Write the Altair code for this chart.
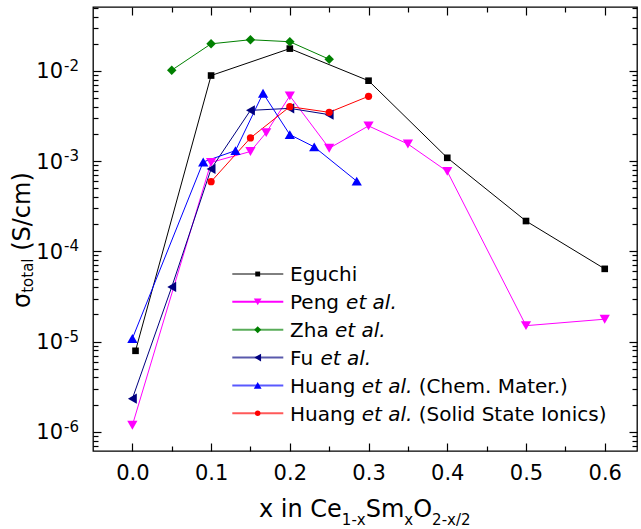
import altair as alt
import pandas as pd

FONT = "DejaVu Sans"

# ---------------- data ----------------
series_names = ["Eguchi", "Peng", "Zha", "Fu", "Huang CM", "Huang SSI"]
series_colors = ["#000000", "#FF00FF", "#008000", "#000080", "#0000FF", "#FF0000"]
series_shapes = ["square", "triangle-down", "diamond", "triangle-left", "triangle-up", "circle"]
series_msize = [44, 105, 90, 105, 105, 52]
legend_msize = [24, 60, 50, 60, 60, 30]

eguchi_x = [0.004, 0.1, 0.2, 0.3, 0.4, 0.5, 0.6]
eguchi_y = [7.9e-6, 8.9e-3, 1.77e-2, 7.8e-3, 1.09e-3, 2.17e-4, 6.4e-5]
peng_x = [0.0, 0.1, 0.15, 0.17, 0.2, 0.25, 0.3, 0.35, 0.4, 0.5, 0.6]
peng_y = [1.18e-6, 9.7e-4, 1.28e-3, 2.07e-3, 5.3e-3, 1.39e-3, 2.46e-3, 1.55e-3, 7.7e-4, 1.5e-5, 1.77e-5]
zha_x = [0.05, 0.1, 0.15, 0.2, 0.25]
zha_y = [1.02e-2, 2.0e-2, 2.22e-2, 2.11e-2, 1.35e-2]
fu_x = [0.0, 0.05, 0.1, 0.15, 0.2, 0.25]
fu_y = [2.33e-6, 4.03e-5, 8.2e-4, 3.66e-3, 3.85e-3, 3.28e-3]
huangcm_x = [0.0, 0.09, 0.131, 0.166, 0.2, 0.231, 0.285]
huangcm_y = [1.08e-5, 9.8e-4, 1.31e-3, 5.66e-3, 1.97e-3, 1.44e-3, 6.0e-4]
huangssi_x = [0.1, 0.15, 0.2, 0.25, 0.3]
huangssi_y = [5.93e-4, 1.81e-3, 4.02e-3, 3.48e-3, 5.24e-3]

x_major = [0.0, 0.1, 0.2, 0.3, 0.4, 0.5, 0.6]
x_minor = [0.05, 0.15, 0.25, 0.35, 0.45, 0.55]
y_decades = [1e-2, 1e-3, 1e-4, 1e-5, 1e-6]
y_exponents = ["-2", "-3", "-4", "-5", "-6"]

legend_names = ["Eguchi", "Peng", "Zha", "Fu", "Huang", "Huang"]
legend_italic = ["", "et al.", "et al.", "et al.", "et al.", "et al."]
legend_suffix = ["", "", "", "", "(Chem. Mater.)", "(Solid State Ionics)"]

x_title_parts = ["x in Ce", "1-x", "Sm", "x", "O", "2-x/2"]
x_title_sub = [False, True, False, True, False, True]
y_title_parts = ["\u03c3", "total", "(S/cm)"]
y_title_sub = [False, True, False]

# ---------------- helpers ----------------
W = {' ': 318, '(': 390, ')': 390, '.': 318, '/': 337, '-': 361,
     'C': 698, 'E': 632, 'F': 575, 'H': 752, 'I': 295, 'M': 863, 'O': 787,
     'P': 603, 'S': 635, 'Z': 685, 'a': 613, 'c': 550, 'd': 635, 'e': 615,
     'g': 635, 'h': 634, 'i': 278, 'l': 278, 'm': 974, 'n': 634, 'o': 612,
     'r': 411, 's': 521, 't': 392, 'u': 634, 'x': 592, '\u03c3': 635}


def tw(s, fs):
    return sum(W.get(c, 636) for c in s) * fs / 1000.0


rows = []
for name, xs, ys in zip(series_names,
                        [eguchi_x, peng_x, zha_x, fu_x, huangcm_x, huangssi_x],
                        [eguchi_y, peng_y, zha_y, fu_y, huangcm_y, huangssi_y]):
    for i, (xv, yv) in enumerate(zip(xs, ys)):
        rows.append({"series": name, "x": xv, "y": yv, "i": i})
df = pd.DataFrame(rows)

XDOM = [-0.05, 0.641]
YDOM = [6.12e-7, 0.0512]
xscale = alt.Scale(domain=XDOM, nice=False, zero=False)
yscale = alt.Scale(type="log", domain=YDOM, nice=False)
cscale = alt.Scale(domain=series_names, range=series_colors)

y_minor = []
for k in range(-7, -1):
    for m in range(2, 10):
        v = m * 10.0 ** k
        if YDOM[0] < v < YDOM[1]:
            y_minor.append(v)

MAJ, MIN = 8, 5


def ax(orient, values, size, labels=False):
    kw = dict(orient=orient, values=values, tickSize=alt.ExprRef(expr=str(-size)),
              tickColor="black", tickWidth=1.2, domain=False, grid=False,
              labels=labels, title=None)
    if labels:
        kw.update(format=".1f", labelFont=FONT, labelFontSize=21, labelColor="black",
                  labelPadding=19, labelFlush=False, labelOverlap=False)
    return alt.Axis(**kw)


def carrier(xax, yax):
    return alt.Chart(df).mark_point(opacity=0).encode(
        x=alt.X("x:Q", scale=xscale, axis=xax),
        y=alt.Y("y:Q", scale=yscale, axis=yax),
    )


c1 = carrier(ax("bottom", x_major, MAJ, True), ax("left", y_decades, MAJ))
c2 = carrier(ax("top", x_major, MAJ), ax("right", y_decades, MAJ))
c3 = carrier(ax("bottom", x_minor, MIN), ax("left", y_minor, MIN))
c4 = carrier(ax("top", x_minor, MIN), ax("right", y_minor, MIN))

X = alt.X("x:Q", scale=xscale, axis=None)
Y = alt.Y("y:Q", scale=yscale, axis=None)
COL = alt.Color("series:N", scale=cscale, legend=None)

lines = alt.Chart(df).mark_line(strokeWidth=1).encode(
    x=X, y=Y, color=COL, detail="series:N", order="i:Q")

point_layers = []
for name, col, shp, sz in zip(series_names, series_colors, series_shapes, series_msize):
    point_layers.append(
        alt.Chart(df).transform_filter(alt.datum.series == name).mark_point(
            filled=True, opacity=1, strokeWidth=0, shape=shp, size=sz, color=col
        ).encode(x=X, y=Y)
    )

# y tick labels 10^n
ylab_df = pd.DataFrame({"y": y_decades, "base": ["10"] * len(y_decades), "exp": y_exponents})
ylab_base = alt.Chart(ylab_df).mark_text(
    align="right", baseline="alphabetic", dy=7.5, fontSize=21, font=FONT, color="black"
).encode(x=alt.value(-30), y=alt.Y("y:Q", scale=yscale, axis=None), text="base:N")
ylab_exp = alt.Chart(ylab_df).mark_text(
    align="left", baseline="alphabetic", dy=0, fontSize=15, font=FONT, color="black"
).encode(x=alt.value(-29), y=alt.Y("y:Q", scale=yscale, axis=None), text="exp:N")

# x title
FT, FS = 24, 15
xt_rows = []
cx = 166.0
for part, sub in zip(x_title_parts, x_title_sub):
    fs = FS if sub else FT
    xt_rows.append({"t": part, "px": cx, "py": 518.0 if sub else 509.7, "fs": fs})
    cx += tw(part, fs)
xt_df = pd.DataFrame(xt_rows)
xtitle = alt.Chart(xt_df).mark_text(align="left", baseline="alphabetic", font=FONT, color="black").encode(
    x=alt.X("px:Q", scale=None, axis=None), y=alt.Y("py:Q", scale=None, axis=None),
    text="t:N", size=alt.Size("fs:Q", scale=None, legend=None))

# y title (rotated)
yt_rows = []
cy = 301.0
for j, (part, sub) in enumerate(zip(y_title_parts, y_title_sub)):
    fs = FS if sub else FT
    if j == 2:
        cy -= tw(" ", FT)
    yt_rows.append({"t": part, "px": -59.7 if sub else -63.0, "py": cy, "fs": fs})
    cy -= tw(part, fs)
yt_df = pd.DataFrame(yt_rows)
ytitle = alt.Chart(yt_df).mark_text(align="left", baseline="alphabetic", font=FONT, color="black",
                                    angle=270).encode(
    x=alt.X("px:Q", scale=None, axis=None), y=alt.Y("py:Q", scale=None, axis=None),
    text="t:N", size=alt.Size("fs:Q", scale=None, legend=None))

# legend
LF = 20
leg_rows = []
for r, (nm, it, sf) in enumerate(zip(legend_names, legend_italic, legend_suffix)):
    ry = 267.0 + r * 27.85
    x0 = 197.0
    x1 = x0 + tw(nm + " ", LF)
    x2 = x1 + tw(it + " ", LF)
    leg_rows.append({"series": series_names[r], "ry": ry, "ty": ry + 7.3,
                     "name": nm, "ital": it, "suf": sf, "x0": x0, "x1": x1, "x2": x2})
leg_df = pd.DataFrame(leg_rows)
LY = alt.Y("ry:Q", scale=None, axis=None)
TY = alt.Y("ty:Q", scale=None, axis=None)
leg_lines = alt.Chart(leg_df).mark_rule().encode(
    x=alt.value(139.3), x2=alt.value(190.3), y=LY, color=COL,
    strokeWidth=alt.condition("datum.series == 'Eguchi'", alt.value(1), alt.value(2)),
    opacity=alt.condition("datum.series == 'Eguchi' || datum.series == 'Peng'", alt.value(1), alt.value(0.65)))
leg_pt_layers = []
for name, col, shp, sz in zip(series_names, series_colors, series_shapes, legend_msize):
    leg_pt_layers.append(
        alt.Chart(leg_df).transform_filter(alt.datum.series == name).mark_point(
            filled=True, opacity=1, strokeWidth=0, shape=shp, size=sz, color=col
        ).encode(x=alt.value(164.7), y=LY)
    )
leg_name = alt.Chart(leg_df).mark_text(align="left", baseline="alphabetic", font=FONT, fontSize=LF,
                                       color="black").encode(
    x=alt.X("x0:Q", scale=None, axis=None), y=TY, text="name:N")
leg_ital = alt.Chart(leg_df).mark_text(align="left", baseline="alphabetic", font=FONT, fontSize=LF,
                                       fontStyle="italic", color="black").encode(
    x=alt.X("x1:Q", scale=None, axis=None), y=TY, text="ital:N")
leg_suf = alt.Chart(leg_df).mark_text(align="left", baseline="alphabetic", font=FONT, fontSize=LF,
                                      color="black").encode(
    x=alt.X("x2:Q", scale=None, axis=None), y=TY, text="suf:N")

chart = alt.layer(
    c1, c2, c3, c4, lines, *point_layers, ylab_base, ylab_exp, xtitle, ytitle,
    leg_lines, *leg_pt_layers, leg_name, leg_ital, leg_suf
).resolve_axis(x="independent", y="independent").properties(
    width=544, height=444,
    padding={"left": 93, "top": 7, "right": 4, "bottom": 78},
    autosize=alt.AutoSizeParams(type="none"),
    background="white",
).configure_view(stroke="black", strokeWidth=1.3)

chart.save("out.html", embed_options={"renderer": "svg", "actions": False})
